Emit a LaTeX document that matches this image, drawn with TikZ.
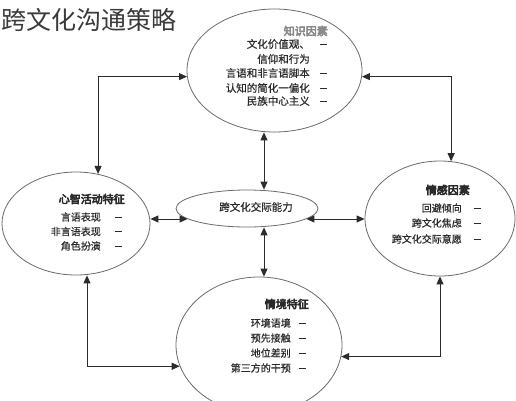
\documentclass[tikz,border=0pt]{standalone}
\usepackage{fontspec}
\newfontfamily\cjk{Noto Sans CJK SC}
\newfontfamily\cjkm[FakeBold=0.6]{Noto Sans CJK SC}
\newcommand\heavytext[1]{\special{pdf:literal direct 2 Tr 0.55 w}#1\special{pdf:literal direct 0 Tr}}
\usetikzlibrary{shapes.geometric,arrows.meta}
\definecolor{ln}{HTML}{2B2B2B}
\definecolor{ring}{HTML}{6A6A6A}
\definecolor{txt}{HTML}{2A2A2A}
\definecolor{pale}{HTML}{8A8A8A}
\definecolor{ttl}{HTML}{3A3A3A}
\begin{document}
\begin{tikzpicture}[x=1pt,y=-1pt,
  oval/.style={ellipse, draw=ring, line width=0.8pt, inner sep=0},
  link/.style={draw=ln, line width=0.9pt, {Triangle[length=8pt,width=7pt]}-{Triangle[length=8pt,width=7pt]}},
  item/.style={anchor=east, inner sep=0, text=txt, font=\cjkm\fontsize{10}{12}\selectfont},
  bigitem/.style={item, font=\cjkm\fontsize{10.5}{12}\selectfont},
  head/.style={anchor=east, inner sep=0, text=txt, font=\cjk\fontsize{11}{13}\selectfont},
  dsh/.style={inner sep=0, text=txt}]
\useasboundingbox (0,0) rectangle (516,400);
\clip (0,0) rectangle (516,400);

% title
\node[anchor=west, inner sep=0, text=ttl, font=\cjk\fontsize{25}{30}\selectfont] (title) at (1,20) {跨文化沟通策略};

% ellipses
\node[oval, minimum width=175pt, minimum height=123pt] (top) at (274.5,70.5) {};
\node[oval, minimum width=148pt, minimum height=103pt] (lft) at (76,223.5) {};
\node[oval, minimum width=150pt, minimum height=115pt] (rgt) at (440,218.5) {};
\node[oval, minimum width=166pt, minimum height=136pt] (bot) at (259,345) {};
\node[oval, minimum width=142pt, minimum height=37pt] (cen) at (247,208.5) {};

% connectors
\draw[link] (top.184) -| (lft.66);
\draw[link] (top.356) -| (rgt.79);
\draw[link] ([xshift=-10.5pt]top.south) -- ([xshift=17pt]cen.north);
\draw[link] ([xshift=17pt]cen.south) -- ([xshift=5pt]bot.north);
\draw[link] (lft.east |- cen.190) -- (cen.190);
\draw[link] (cen.350) -- (cen.350 -| rgt.west);
\draw[link] ([xshift=11pt]lft.south) |- (bot.195);
\draw[link] (rgt.south) |- (bot.352);

% centre text
\node[inner sep=0, text=txt, font=\cjkm\fontsize{10.5}{12}\selectfont] (centxt) at (256,207) {跨文化交际能力};

% top block
\node[head, text=pale] (kh) at (328,31) {\heavytext{知识因素}};
\node[bigitem] (k1) at (310,44) {文化价值观、};
\node[bigitem] (k2) at (310,59) {信仰和行为};
\node[bigitem] (k3) at (310,73) {言语和非言语脚本};
\node[bigitem] (k4) at (310,88) {认知的简化一偏化};
\node[bigitem] (k5) at (310,101) {民族中心主义};
\node[dsh] (kd1) at (323,44) {\rule{7pt}{1pt}};
\node[dsh] (kd3) at (323,73) {\rule{7pt}{1pt}};
\node[dsh] (kd4) at (323,88) {\rule{7pt}{1pt}};
\node[dsh] (kd5) at (323,101) {\rule{7pt}{1pt}};

% left block
\node[head] (mh) at (125,199) {\heavytext{心智活动特征}};
\node[item] (m1) at (101,217) {言语表现};
\node[item] (m2) at (101,231.5) {非言语表现};
\node[item] (m3) at (101,246) {角色扮演};
\node[dsh] (md1) at (118,217) {\rule{7pt}{1pt}};
\node[dsh] (md2) at (118,231.5) {\rule{7pt}{1pt}};
\node[dsh] (md3) at (118,246) {\rule{7pt}{1pt}};

% right block
\node[head] (ah) at (470,190) {\heavytext{情感因素}};
\node[item] (a1) at (462,208) {回避倾向};
\node[item] (a2) at (462,223) {跨文化焦虑};
\node[item] (a3) at (462,239) {跨文化交际意愿};
\node[dsh] (ad1) at (477,208) {\rule{7pt}{1pt}};
\node[dsh] (ad2) at (477,223) {\rule{7pt}{1pt}};
\node[dsh] (ad3) at (477,239) {\rule{7pt}{1pt}};

% bottom block
\node[head] (sh) at (309,304) {\heavytext{情境特征}};
\node[item] (s1) at (291,323) {环境语境};
\node[item] (s2) at (291,338) {预先接触};
\node[item] (s3) at (291,353) {地位差别};
\node[item] (s4) at (291,368) {第三方的干预};
\node[dsh] (sd1) at (302,323) {\rule{7pt}{1pt}};
\node[dsh] (sd2) at (302,338) {\rule{7pt}{1pt}};
\node[dsh] (sd3) at (302,353) {\rule{7pt}{1pt}};
\node[dsh] (sd4) at (302,368) {\rule{7pt}{1pt}};
\end{tikzpicture}
\end{document}
